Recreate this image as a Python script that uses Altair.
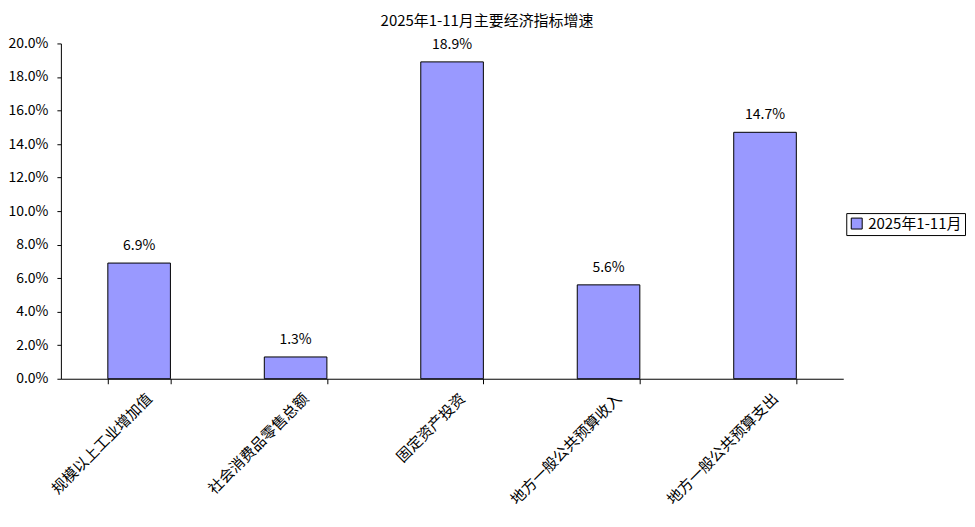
import altair as alt
import pandas as pd

categories = ["规模以上工业增加值", "社会消费品零售总额", "固定资产投资", "地方一般公共预算收入", "地方一般公共预算支出"]
values = [6.9, 1.3, 18.9, 5.6, 14.7]
series = ["2025年1-11月"] * 5
y_ticks = [0, 2, 4, 6, 8, 10, 12, 14, 16, 18, 20]

df = pd.DataFrame({"cat": categories, "val": values, "series": series})
df["lbl"] = [f"{v:.1f}%" for v in values]

FONT = "Noto Sans CJK SC"

x = alt.X("cat:N", sort=categories, title=None,
          scale=alt.Scale(paddingInner=0.6, paddingOuter=0.3),
          axis=alt.Axis(labelAngle=-45, labelAlign="right", labelBaseline="middle",
                        labelFontSize=15, labelFont=FONT, labelColor="#000",
                        tickBand="extent", tickSize=5, tickColor="#000",
                        domainColor="#000", labelPadding=12, labelOffset=10))

y = alt.Y("val:Q", title=None,
          scale=alt.Scale(domain=[0, 20], nice=False),
          axis=alt.Axis(values=y_ticks, labelExpr="format(datum.value, '.1f') + '%'",
                        labelOverlap=False, tickCount=11,
                        grid=False, tickSize=4, tickColor="#000", domainColor="#000",
                        labelFontSize=14, labelFont=FONT, labelColor="#000", labelPadding=9))

bars = alt.Chart(df).mark_bar(stroke="#000", strokeWidth=1).encode(
    x=x,
    y=y,
    fill=alt.Fill("series:N", title=None,
                  scale=alt.Scale(range=["#9999FF"]),
                  legend=alt.Legend(orient="none", legendX=787, legendY=170,
                                    strokeColor="#000", padding=3,
                                    symbolType="square", symbolSize=120,
                                    symbolStrokeColor="#000", symbolStrokeWidth=1,
                                    labelFontSize=15, labelFont=FONT, labelColor="#000")),
)

text = alt.Chart(df).mark_text(baseline="bottom", dy=-10, fontSize=14, font=FONT, color="#000").encode(
    x=x,
    y=y,
    text="lbl:N",
)

chart = alt.layer(bars, text).properties(
    width=784, height=336,
    autosize=alt.AutoSizeParams(type="none"),
    padding={"left": 53, "top": 35, "right": 124, "bottom": 130},
    title=alt.TitleParams("2025年1-11月主要经济指标增速", fontSize=15, font=FONT,
                          fontWeight="normal", color="#000", anchor="middle",
                          frame="group", offset=7, dx=35),
).configure_view(stroke=None)

chart.save("out.html", embed_options={"renderer": "svg", "actions": False})
